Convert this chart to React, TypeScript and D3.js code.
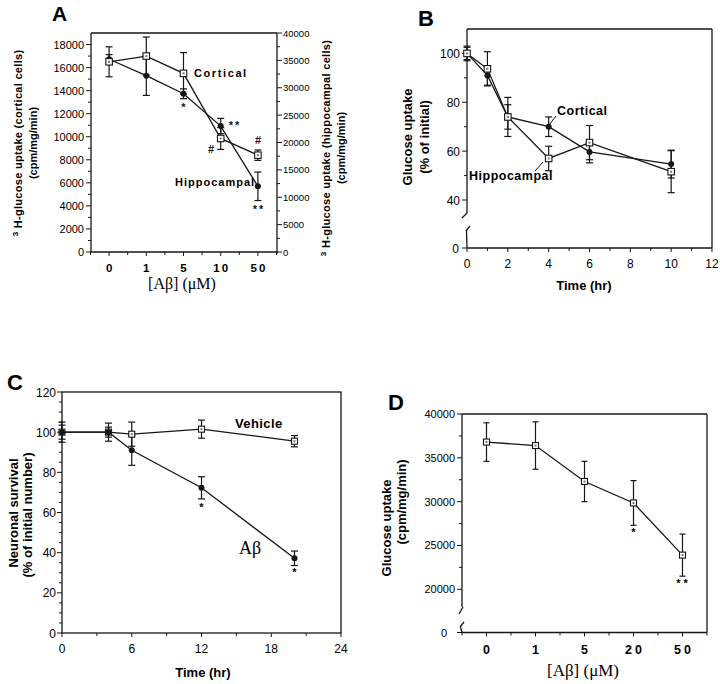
import React from "react";
import * as d3 from "d3";

// ---------- Panel A ----------
const aConc = ["0", "1", "5", "10", "50"];
const aCortical = [16500, 17000, 15500, 9850, 8400];
const aCorticalErr = [1300, 1650, 1800, 950, 450];
const aHippo = [35200, 32200, 28900, 23000, 12000];
const aHippoErr = [850, 3600, 900, 1400, 2600];
const aLeftTicks = [0, 2000, 4000, 6000, 8000, 10000, 12000, 14000, 16000, 18000];
const aRightTicks = [0, 5000, 10000, 15000, 20000, 25000, 30000, 35000, 40000];

// ---------- Panel B ----------
const bTime = [0, 1, 2, 4, 6, 10];
const bCortical = [100, 91, 74, 70, 59.7, 54.7];
const bCorticalErr = [2.5, 4, 5, 4, 4.5, 5.7];
const bHippo = [100, 93.7, 74, 57, 63.5, 51.6];
const bHippoErr = [3, 7, 8, 5, 7, 8.6];
const bYTicks = [40, 60, 80, 100];
const bXTicks = [0, 2, 4, 6, 8, 10, 12];

// ---------- Panel C ----------
const cTime = [0, 4, 6, 12, 20];
const cVehicle = [100, 100, 99, 101.5, 95.5];
const cVehicleErr = [5, 4.5, 6, 4.5, 2.8];
const cAbeta = [100, 100, 91, 72.3, 37.2];
const cAbetaErr = [3.5, 2.5, 7.5, 5.5, 3.6];
const cYTicks = [0, 20, 40, 60, 80, 100, 120];
const cXTicks = [0, 6, 12, 18, 24];

// ---------- Panel D ----------
const dConc = ["0", "1", "5", "20", "50"];
const dUptake = [36800, 36400, 32300, 29850, 23900];
const dUptakeErr = [2200, 2700, 2300, 2550, 2400];
const dYTicks = [20000, 25000, 30000, 35000, 40000];

const SANS = "'Liberation Sans', Arial, Helvetica, sans-serif";
const SERIF = "'Liberation Serif', 'Times New Roman', serif";
const INK = "#161616";

type Pt = [number, number];

function ErrBar({ x, y0, y1, cap = 3.5 }: { x: number; y0: number; y1: number; cap?: number }) {
  return (
    <g stroke={INK} strokeWidth={1.2}>
      <line x1={x} x2={x} y1={y0} y2={y1} />
      <line x1={x - cap} x2={x + cap} y1={y0} y2={y0} />
      <line x1={x - cap} x2={x + cap} y1={y1} y2={y1} />
    </g>
  );
}

function Square({ x, y, s = 6.5 }: { x: number; y: number; s?: number }) {
  return (
    <g>
      <rect x={x - s / 2} y={y - s / 2} width={s} height={s} fill="#fff" stroke={INK} strokeWidth={1.1} />
      <rect x={x - 1} y={y - 1} width={2} height={2} fill="#777" />
    </g>
  );
}

function Dot({ x, y, r = 3 }: { x: number; y: number; r?: number }) {
  return <circle cx={x} cy={y} r={r} fill={INK} />;
}

function Path({ pts }: { pts: Pt[] }) {
  const line = d3.line();
  return <path d={line(pts) || ""} fill="none" stroke={INK} strokeWidth={1.3} />;
}

// ======================= PANEL A ============================
function PanelA() {
  const L = 91, R = 277, T = 33, B = 252;
  const x = d3.scaleLinear().domain([-0.5, 4.5]).range([L - 0.5, R - 0.5]);
  const yL = d3.scaleLinear().domain([0, 19000]).range([B, T]);
  const yR = d3.scaleLinear().domain([0, 40000]).range([B, T]);
  const cort: Pt[] = aCortical.map((v, i) => [x(i), yL(v)]);
  const hip: Pt[] = aHippo.map((v, i) => [x(i), yR(v)]);
  const minorL = d3.range(1000, 19000, 2000);
  const minorR = d3.range(2500, 40000, 5000);
  const xMinor = d3.range(-0.5, 4.6, 1);
  return (
    <g>
      <text x={52} y={21} fontFamily={SANS} fontWeight="bold" fontSize={21}>A</text>
      <line x1={L} x2={R} y1={T} y2={T} stroke={INK} strokeWidth={1.3} />
      <line x1={L} x2={R} y1={B} y2={B} stroke={INK} strokeWidth={1.3} />
      <line x1={L} x2={L} y1={T} y2={B} stroke={INK} strokeWidth={1.3} />
      <line x1={R} x2={R} y1={T} y2={B + 2} stroke={INK} strokeWidth={1.3} />
      {aLeftTicks.map((t) => (
        <g key={"l" + t}>
          <line x1={L - 5} x2={L} y1={yL(t)} y2={yL(t)} stroke={INK} />
          <text x={L - 7} y={yL(t) + 4} textAnchor="end" fontFamily={SANS} fontSize={11}>{t}</text>
        </g>
      ))}
      {minorL.map((t) => <line key={"lm" + t} x1={L - 3} x2={L} y1={yL(t)} y2={yL(t)} stroke={INK} />)}
      {aRightTicks.map((t) => (
        <g key={"r" + t}>
          <line x1={R} x2={R + 5} y1={yR(t)} y2={yR(t)} stroke={INK} />
          <text x={R + 6} y={yR(t) + 3.5} textAnchor="start" fontFamily={SANS} fontSize={9.5}>{t}</text>
        </g>
      ))}
      {minorR.map((t) => <line key={"rm" + t} x1={R} x2={R + 3} y1={yR(t)} y2={yR(t)} stroke={INK} />)}
      {aConc.map((c, i) => (
        <g key={"x" + c}>
          <line x1={x(i)} x2={x(i)} y1={B} y2={B + 4} stroke={INK} />
          <text x={x(i) + (c.length > 1 ? 1 : 0)} y={272} textAnchor="middle" fontFamily={SANS} fontWeight="bold" fontSize={11.5} letterSpacing={c.length > 1 ? 2 : 0}>{c}</text>
        </g>
      ))}
      {xMinor.map((v) => <line key={"xm" + v} x1={x(v)} x2={x(v)} y1={B} y2={B + 3} stroke={INK} />)}
      <text x={182} y={289} textAnchor="middle" fontFamily={SERIF} fontSize={16}>[Aβ] (μM)</text>
      {/* left title */}
      <g transform="translate(22,143) rotate(-90)">
        <text textAnchor="middle" fontFamily={SANS} fontWeight="bold" fontSize={11} letterSpacing={0.3}>
          <tspan fontSize={8} dy={-4}>3</tspan><tspan dy={4}> H-glucose  uptake  (cortical  cells)</tspan>
        </text>
      </g>
      <g transform="translate(37,143) rotate(-90)">
        <text textAnchor="middle" fontFamily={SANS} fontWeight="bold" fontSize={11}>(cpm/mg/min)</text>
      </g>
      {/* right title */}
      <g transform="translate(330,148) rotate(-90)">
        <text textAnchor="middle" fontFamily={SANS} fontWeight="bold" fontSize={11} letterSpacing={0.3}>
          <tspan fontSize={8} dy={-4}>3</tspan><tspan dy={4}> H-glucose  uptake  (hippocampal  cells)</tspan>
        </text>
      </g>
      <g transform="translate(345,148) rotate(-90)">
        <text textAnchor="middle" fontFamily={SANS} fontWeight="bold" fontSize={11}>(cpm/mg/min)</text>
      </g>
      {/* error bars */}
      {aCortical.map((v, i) => (
        <ErrBar key={"ce" + i} x={x(i)} y0={yL(v + aCorticalErr[i])} y1={yL(v - aCorticalErr[i])} />
      ))}
      {aHippo.map((v, i) => (
        <ErrBar key={"he" + i} x={x(i)} y0={yR(v + aHippoErr[i])} y1={yR(v - aHippoErr[i])} />
      ))}
      <Path pts={cort} />
      <Path pts={hip} />
      {hip.map((p, i) => <Dot key={"hd" + i} x={p[0]} y={p[1]} />)}
      {cort.map((p, i) => <Square key={"cs" + i} x={p[0]} y={p[1]} />)}
      <text x={194} y={77} fontFamily={SANS} fontWeight="bold" fontSize={11} letterSpacing={1.6}>Cortical</text>
      <text x={175} y={186} fontFamily={SANS} fontWeight="bold" fontSize={11} letterSpacing={1}>Hippocampal</text>
      <g fontFamily={SANS} fontSize={11} fontWeight="bold" textAnchor="middle" fill={INK}>
        <text x={x(2)} y={111}>*</text>
        <text x={235} y={129} letterSpacing={2}>**</text>
        <text x={211} y={153} fontSize={11}>#</text>
        <text x={258} y={144} fontSize={11}>#</text>
        <text x={259} y={213} letterSpacing={2}>**</text>
      </g>
    </g>
  );
}

// ======================= PANEL B ============================
function PanelB() {
  const L = 467, R = 712, T = 29, B = 248;
  const x = d3.scaleLinear().domain([0, 12]).range([L, R]);
  const y = d3.scaleLinear().domain([40, 110]).range([200, T]);
  const yZero = B;
  const cort: Pt[] = bCortical.map((v, i) => [x(bTime[i]), y(v)]);
  const hip: Pt[] = bHippo.map((v, i) => [x(bTime[i]), y(v)]);
  const yMinor = [50, 70, 90];
  const xMinor = d3.range(1, 12, 2);
  return (
    <g>
      <text x={418} y={26} fontFamily={SANS} fontWeight="bold" fontSize={22}>B</text>
      <line x1={L} x2={R} y1={T} y2={T} stroke={INK} strokeWidth={1.3} />
      <line x1={R} x2={R} y1={T} y2={B} stroke={INK} strokeWidth={1.3} />
      <line x1={L} x2={R} y1={B} y2={B} stroke={INK} strokeWidth={1.3} />
      {/* broken y axis */}
      <line x1={L} x2={L} y1={T} y2={213} stroke={INK} strokeWidth={1.3} />
      <line x1={L} x2={L - 5} y1={213} y2={218} stroke={INK} strokeWidth={1.3} />
      <line x1={L + 3} x2={L - 1} y1={226} y2={231} stroke={INK} strokeWidth={1.3} />
      <line x1={L - 0.5} x2={L} y1={231} y2={B} stroke={INK} strokeWidth={1.3} />
      {bYTicks.map((t) => (
        <g key={"y" + t}>
          <line x1={L - 5} x2={L} y1={y(t)} y2={y(t)} stroke={INK} />
          <text x={L - 7} y={y(t) + 4.5} textAnchor="end" fontFamily={SANS} fontSize={12}>{t}</text>
        </g>
      ))}
      {yMinor.map((t) => <line key={"ym" + t} x1={L - 3} x2={L} y1={y(t)} y2={y(t)} stroke={INK} />)}
      <line x1={L - 5} x2={L} y1={yZero} y2={yZero} stroke={INK} />
      <text x={L - 8} y={yZero + 4.5} textAnchor="end" fontFamily={SANS} fontSize={12}>0</text>
      {bXTicks.map((t) => (
        <g key={"x" + t}>
          <line x1={x(t)} x2={x(t)} y1={B} y2={B + 4} stroke={INK} />
          <text x={x(t)} y={268} textAnchor="middle" fontFamily={SANS} fontSize={12}>{t}</text>
        </g>
      ))}
      {xMinor.map((t) => <line key={"xm" + t} x1={x(t)} x2={x(t)} y1={B} y2={B + 3} stroke={INK} />)}
      <text x={584} y={290} textAnchor="middle" fontFamily={SANS} fontWeight="bold" fontSize={13}>Time  (hr)</text>
      <g transform="translate(412,137) rotate(-90)">
        <text textAnchor="middle" fontFamily={SANS} fontWeight="bold" fontSize={13}>Glucose  uptake</text>
      </g>
      <g transform="translate(429,137) rotate(-90)">
        <text textAnchor="middle" fontFamily={SANS} fontWeight="bold" fontSize={13}>(% of initial)</text>
      </g>
      {bCortical.map((v, i) => (
        <ErrBar key={"ce" + i} x={x(bTime[i])} y0={y(v + bCorticalErr[i])} y1={y(v - bCorticalErr[i])} />
      ))}
      {bHippo.map((v, i) => (
        <ErrBar key={"he" + i} x={x(bTime[i])} y0={y(v + bHippoErr[i])} y1={y(v - bHippoErr[i])} />
      ))}
      <Path pts={cort} />
      <Path pts={hip} />
      {cort.map((p, i) => <Dot key={"cd" + i} x={p[0]} y={p[1]} />)}
      {hip.map((p, i) => <Square key={"hs" + i} x={p[0]} y={p[1]} />)}
      <text x={557} y={115} fontFamily={SANS} fontWeight="bold" fontSize={12.5} letterSpacing={0.5}>Cortical</text>
      <line x1={556} y1={116} x2={549} y2={125} stroke={INK} strokeWidth={1} />
      <text x={469} y={180} fontFamily={SANS} fontWeight="bold" fontSize={12.5} letterSpacing={0.5}>Hippocampal</text>
      <line x1={535} y1={171} x2={543} y2={162} stroke={INK} strokeWidth={1} />
    </g>
  );
}

// ======================= PANEL C ============================
function PanelC() {
  const L = 62, R = 341, T = 392, B = 633;
  const x = d3.scaleLinear().domain([0, 24]).range([L, R]);
  const y = d3.scaleLinear().domain([0, 120]).range([B, T]);
  const veh: Pt[] = cVehicle.map((v, i) => [x(cTime[i]), y(v)]);
  const ab: Pt[] = cAbeta.map((v, i) => [x(cTime[i]), y(v)]);
  const yMinor = d3.range(5, 120, 5).filter((v) => v % 20 !== 0);
  const xMinor = [3, 9, 15, 21];
  return (
    <g>
      <text x={7} y={390} fontFamily={SANS} fontWeight="bold" fontSize={22}>C</text>
      <rect x={L} y={T} width={R - L} height={B - T} fill="none" stroke={INK} strokeWidth={1.3} />
      {cYTicks.map((t) => (
        <g key={"y" + t}>
          <line x1={L - 5} x2={L} y1={y(t)} y2={y(t)} stroke={INK} />
          <text x={L - 6} y={y(t) + 4.5} textAnchor="end" fontFamily={SANS} fontSize={12}>{t}</text>
        </g>
      ))}
      {yMinor.map((t) => <line key={"ym" + t} x1={L - 3} x2={L} y1={y(t)} y2={y(t)} stroke={INK} />)}
      {cXTicks.map((t) => (
        <g key={"x" + t}>
          <line x1={x(t)} x2={x(t)} y1={B} y2={B + 4} stroke={INK} />
          <text x={x(t)} y={653} textAnchor="middle" fontFamily={SANS} fontSize={12}>{t}</text>
        </g>
      ))}
      {xMinor.map((t) => <line key={"xm" + t} x1={x(t)} x2={x(t)} y1={B} y2={B + 3} stroke={INK} />)}
      <text x={203} y={677} textAnchor="middle" fontFamily={SANS} fontWeight="bold" fontSize={13}>Time (hr)</text>
      <g transform="translate(18,513) rotate(-90)">
        <text textAnchor="middle" fontFamily={SANS} fontWeight="bold" fontSize={13}>Neuronal survival</text>
      </g>
      <g transform="translate(32,515) rotate(-90)">
        <text textAnchor="middle" fontFamily={SANS} fontWeight="bold" fontSize={13}>(% of initial number)</text>
      </g>
      {cVehicle.map((v, i) => (
        <ErrBar key={"ve" + i} x={x(cTime[i])} y0={y(v + cVehicleErr[i])} y1={y(v - cVehicleErr[i])} />
      ))}
      {cAbeta.map((v, i) => (
        <ErrBar key={"ae" + i} x={x(cTime[i])} y0={y(v + cAbetaErr[i])} y1={y(v - cAbetaErr[i])} />
      ))}
      <Path pts={veh} />
      <Path pts={ab} />
      {veh.map((p, i) => <Square key={"vs" + i} x={p[0]} y={p[1]} s={6} />)}
      {ab.map((p, i) => <Dot key={"ad" + i} x={p[0]} y={p[1]} />)}
      <text x={235} y={428} fontFamily={SANS} fontWeight="bold" fontSize={13} letterSpacing={0.4}>Vehicle</text>
      <text x={239} y={554} fontFamily={SERIF} fontSize={18}>Aβ</text>
      <g fontFamily={SANS} fontSize={11} fontWeight="bold" textAnchor="middle">
        <text x={x(12)} y={511}>*</text>
        <text x={x(20)} y={576}>*</text>
      </g>
    </g>
  );
}

// ======================= PANEL D ============================
function PanelD() {
  const L = 462, R = 707, T = 414, B = 632.5;
  const x = d3.scaleLinear().domain([-0.5, 4.5]).range([L, R]);
  const y = d3.scaleLinear().domain([20000, 40000]).range([589.3, T]);
  const pts: Pt[] = dUptake.map((v, i) => [x(i), y(v)]);
  const yMinor = [22500, 27500, 32500, 37500];
  const xMinor = d3.range(-0.5, 4.6, 1);
  return (
    <g>
      <text x={388} y={410} fontFamily={SANS} fontWeight="bold" fontSize={22}>D</text>
      <line x1={L} x2={R} y1={T} y2={T} stroke={INK} strokeWidth={1.3} />
      <line x1={R} x2={R} y1={T} y2={B} stroke={INK} strokeWidth={1.3} />
      <line x1={L} x2={R} y1={B} y2={B} stroke={INK} strokeWidth={1.3} />
      <line x1={L} x2={L} y1={T} y2={607} stroke={INK} strokeWidth={1.3} />
      <line x1={L + 1} x2={L - 3} y1={607} y2={614} stroke={INK} strokeWidth={1.3} />
      <line x1={L + 2} x2={L - 2} y1={622} y2={627} stroke={INK} strokeWidth={1.3} />
      <line x1={L - 1.5} x2={L} y1={627} y2={B} stroke={INK} strokeWidth={1.3} />
      {dYTicks.map((t) => (
        <g key={"y" + t}>
          <line x1={L - 5} x2={L} y1={y(t)} y2={y(t)} stroke={INK} />
          <text x={L - 7} y={y(t) + 4} textAnchor="end" fontFamily={SANS} fontSize={11}>{t}</text>
        </g>
      ))}
      {yMinor.map((t) => <line key={"ym" + t} x1={L - 3} x2={L} y1={y(t)} y2={y(t)} stroke={INK} />)}
      <line x1={L - 5} x2={L} y1={B} y2={B} stroke={INK} />
      <text x={L - 15} y={B + 4} textAnchor="end" fontFamily={SANS} fontSize={11}>0</text>
      {dConc.map((c, i) => (
        <g key={"x" + c}>
          <line x1={x(i)} x2={x(i)} y1={B} y2={B + 4} stroke={INK} />
          <text x={x(i) + (c.length > 1 ? 1.5 : 0)} y={654} textAnchor="middle" fontFamily={SANS} fontWeight="bold" fontSize={12.5} letterSpacing={c.length > 1 ? 3 : 0}>{c}</text>
        </g>
      ))}
      {xMinor.map((v) => <line key={"xm" + v} x1={x(v)} x2={x(v)} y1={B} y2={B + 3} stroke={INK} />)}
      <text x={583} y={676} textAnchor="middle" fontFamily={SERIF} fontSize={17}>[Aβ]  (μM)</text>
      <g transform="translate(391,528) rotate(-90)">
        <text textAnchor="middle" fontFamily={SANS} fontWeight="bold" fontSize={13}>Glucose uptake</text>
      </g>
      <g transform="translate(406,502) rotate(-90)">
        <text textAnchor="middle" fontFamily={SANS} fontWeight="bold" fontSize={13}>(cpm/mg/min)</text>
      </g>
      {dUptake.map((v, i) => (
        <ErrBar key={"de" + i} x={x(i)} y0={y(v + dUptakeErr[i])} y1={y(v - dUptakeErr[i])} cap={3} />
      ))}
      <Path pts={pts} />
      {pts.map((p, i) => <Square key={"ds" + i} x={p[0]} y={p[1]} s={6} />)}
      <g fontFamily={SANS} fontSize={11} fontWeight="bold" textAnchor="middle">
        <text x={x(3)} y={536}>*</text>
        <text x={x(4) + 1} y={587} letterSpacing={3}>**</text>
      </g>
    </g>
  );
}

export default function App() {
  return (
    <svg width={720} height={684} style={{ display: "block", position: "absolute", left: 0, top: 0, background: "#fff" }}>
      <rect width={720} height={684} fill="#fff" />
      <PanelA />
      <PanelB />
      <PanelC />
      <PanelD />
    </svg>
  );
}
